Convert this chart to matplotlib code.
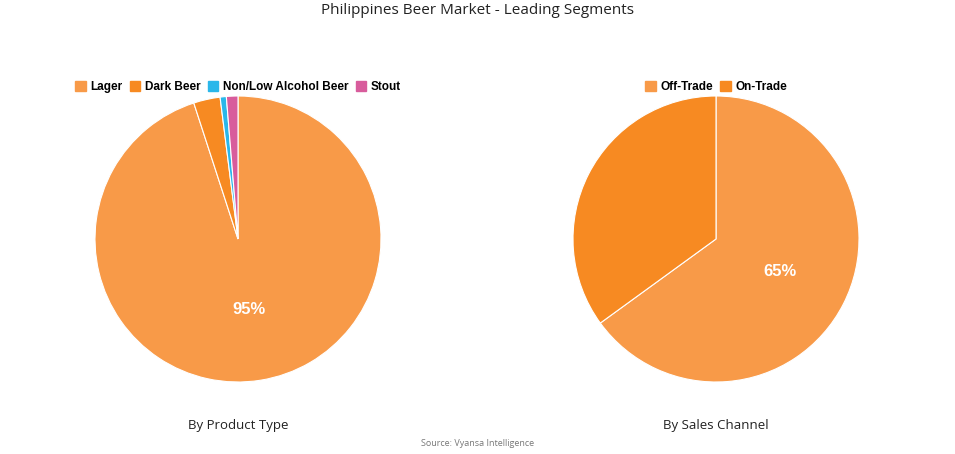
import matplotlib.pyplot as plt
from matplotlib.patches import Patch

plt.rcParams['font.family'] = ['Open Sans', 'DejaVu Sans']

product_labels = ['Lager', 'Dark Beer', 'Non/Low Alcohol Beer', 'Stout']
product_values = [95.0, 3.0, 0.7, 1.3]
product_colors = ['#F89A48', '#F78A22', '#2AB7EA', '#D85C9C']

channel_labels = ['Off-Trade', 'On-Trade']
channel_values = [65.0, 35.0]
channel_colors = ['#F89A48', '#F78A22']

W, H = 955, 454
fig = plt.figure(figsize=(W / 100, H / 100), dpi=100)


def draw_pie(cx, cy, r, values, labels, colors, subtitle, legend_x):
    ax = fig.add_axes([(cx - r) / W, 1 - (cy + r) / H, 2 * r / W, 2 * r / H])
    wedges, texts, autotexts = ax.pie(
        values, colors=colors, startangle=90, counterclock=False,
        autopct=lambda p: f'{p:.0f}%' if p > 50 else '', pctdistance=0.5,
        wedgeprops=dict(edgecolor='white', linewidth=0.8))
    for t in autotexts:
        t.set_color('white')
        t.set_fontsize(12)
        t.set_fontweight('bold')
        t.set_family(['Liberation Sans', 'DejaVu Sans'])
    ax.set_xlim(-1, 1)
    ax.set_ylim(-1, 1)
    ax.set_aspect('equal')
    handles = [Patch(color=c, label=l) for c, l in zip(colors, labels)]
    fig.legend(handles=handles, loc='center', bbox_to_anchor=(legend_x / W, 1 - 87 / H),
               ncol=len(labels), frameon=False, handlelength=0.9, handleheight=0.9,
               handletextpad=0.4, columnspacing=0.6,
               prop=dict(family=['Liberation Sans', 'DejaVu Sans'], weight='bold', size=8.5))
    fig.text(cx / W, 1 - 425 / H, subtitle, ha='center', va='center', fontsize=9.5, color='#222222')


draw_pie(238, 239, 143, product_values, product_labels, product_colors, 'By Product Type', 238)
draw_pie(716, 239, 143, channel_values, channel_labels, channel_colors, 'By Sales Channel', 716)

fig.text(0.5, 1 - 10 / H, 'Philippines Beer Market - Leading Segments', ha='center', va='center',
         fontsize=11, color='#222222')
fig.text(0.5, 1 - 444 / H, 'Source: Vyansa Intelligence', ha='center', va='center',
         fontsize=6.5, color='#777777')

fig.savefig('out.png', dpi=100)
